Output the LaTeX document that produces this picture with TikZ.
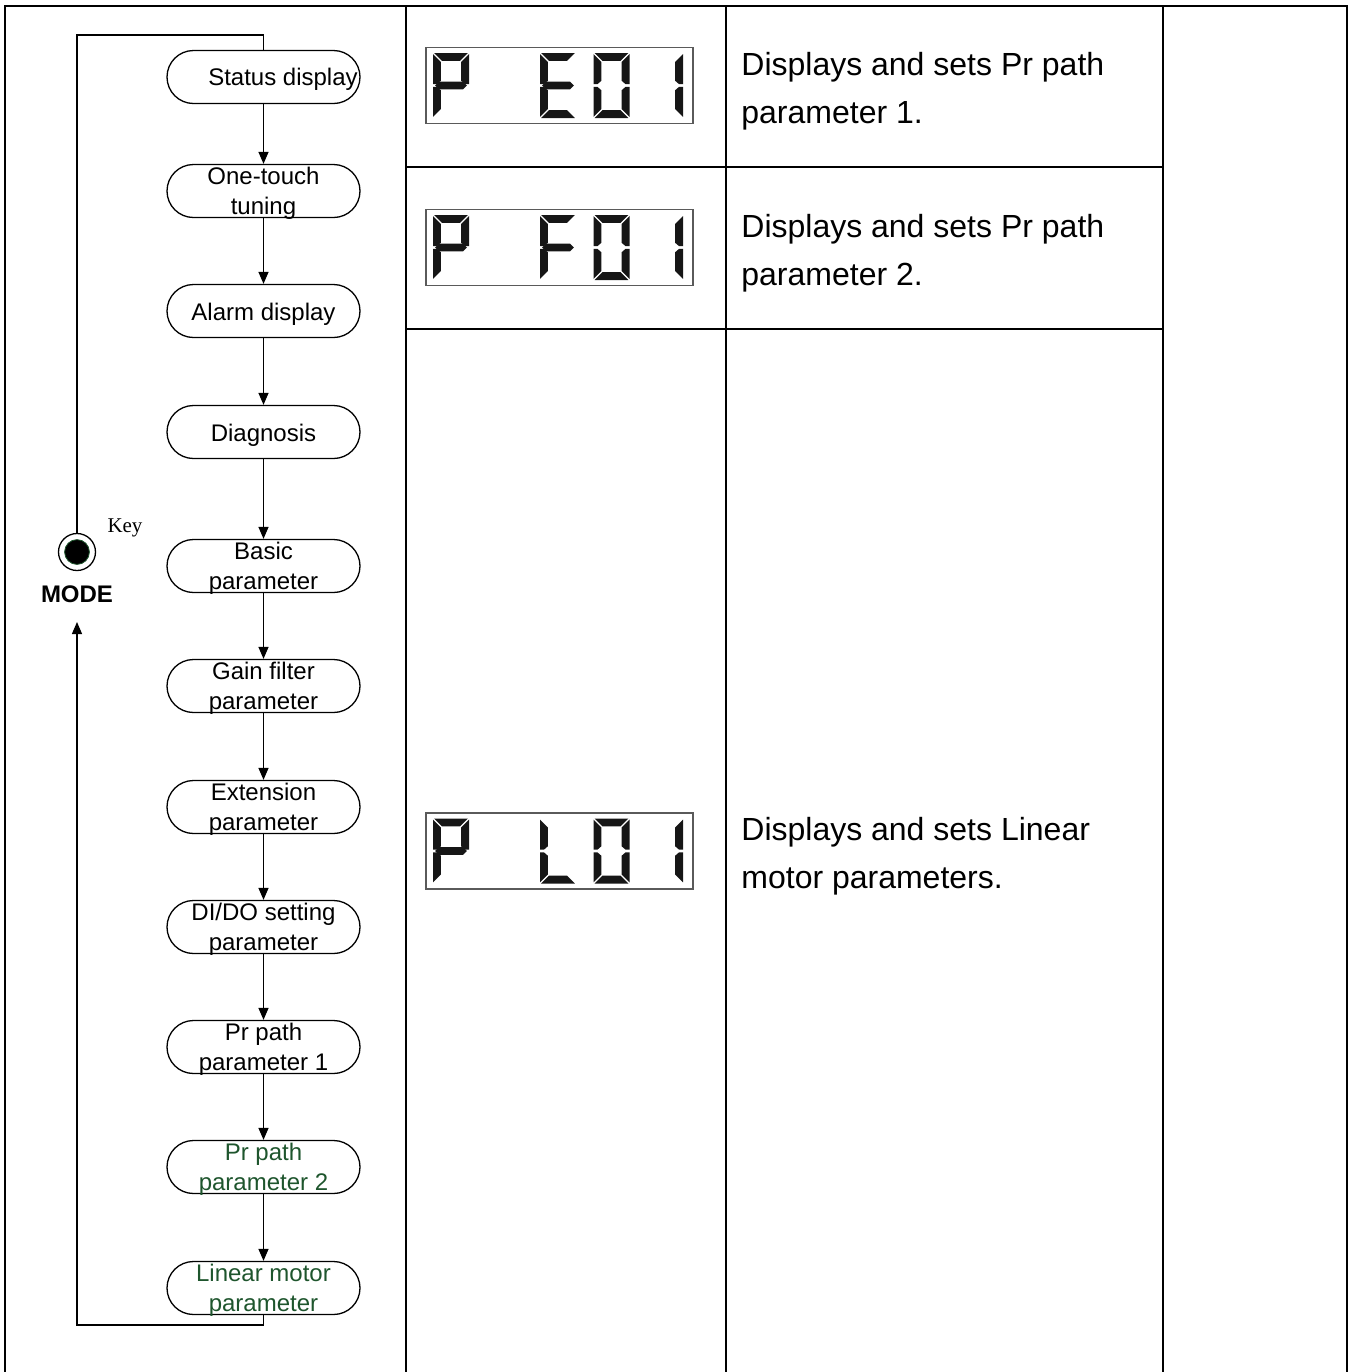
\documentclass[tikz,border=0pt]{standalone}
\usepackage{fontspec}
\setmainfont{Liberation Sans}
\newfontfamily\keyfont{Liberation Serif}
\usetikzlibrary{arrows.meta}
\definecolor{txtgreen}{RGB}{30,85,45}
\definecolor{segdark}{RGB}{22,22,22}
\definecolor{boxgray}{RGB}{90,90,90}

% seven-segment pieces, local pixel frame (origin top-left, 36 x 65)
\newcommand\segA{\fill[segdark] (1.2,0) -- (34.8,0) -- (27,7.8) -- (9,7.8) -- cycle;}
\newcommand\segD{\fill[segdark] (1.2,65) -- (34.8,65) -- (27,57.2) -- (9,57.2) -- cycle;}
\newcommand\segF{\fill[segdark] (0,1.2) -- (7.8,9) -- (7.8,27.8) -- (3.9,31.2) -- (0,31.2) -- cycle;}
\newcommand\segE{\fill[segdark] (0,63.8) -- (7.8,56) -- (7.8,37.2) -- (3.9,33.8) -- (0,33.8) -- cycle;}
\newcommand\segB{\fill[segdark] (36,1.2) -- (28.2,9) -- (28.2,27.8) -- (32.1,31.2) -- (36,31.2) -- cycle;}
\newcommand\segC{\fill[segdark] (36,63.8) -- (28.2,56) -- (28.2,37.2) -- (32.1,33.8) -- (36,33.8) -- cycle;}
\newcommand\segG{\fill[segdark] (2.2,32.5) -- (6,28.7) -- (30,28.7) -- (33.8,32.5) -- (30,36.3) -- (6,36.3) -- cycle;}

\begin{document}
\begin{tikzpicture}[x=0.5pt,y=-0.5pt,
  grid/.style={line width=1pt,line cap=rect},
  flow/.style={line width=0.65pt},
  arr/.style={flow,-{Triangle[length=6pt,width=5pt]}},
  stadium/.style={draw,line width=0.65pt,rounded corners=13.25pt,
    minimum width=96.5pt,minimum height=26.5pt,inner sep=0pt},
  lbl/.style={font=\fontsize{12pt}{15pt}\selectfont,align=center,inner sep=0pt,anchor=base},
  tbl/.style={font=\fontsize{16pt}{24pt}\selectfont,align=left,inner sep=0pt,anchor=base west},
  dispbox/.style={draw=boxgray,line width=0.6pt,minimum width=133.5pt,minimum height=38pt,inner sep=0pt}
]
\useasboundingbox (0,0) rectangle (1354,1372);

% ---- table grid ----
\draw[grid] (5,1373) -- (5,6) -- (1347,6) -- (1347,1373);
\draw[grid] (406,6) -- (406,1373);
\draw[grid] (726,6) -- (726,1373);
\draw[grid] (1163,6) -- (1163,1373);
\draw[grid] (406,167) -- (1163,167);
\draw[grid] (406,329) -- (1163,329);

% ---- flow of the MODE key ----
\node[stadium] (s1)  at (263.5,77)   {};
\node[stadium] (s2)  at (263.5,191)  {};
\node[stadium] (s3)  at (263.5,311)  {};
\node[stadium] (s4)  at (263.5,432)  {};
\node[stadium] (s5)  at (263.5,566)  {};
\node[stadium] (s6)  at (263.5,686)  {};
\node[stadium] (s7)  at (263.5,807)  {};
\node[stadium] (s8)  at (263.5,927)  {};
\node[stadium] (s9)  at (263.5,1047) {};
\node[stadium] (s10) at (263.5,1167) {};
\node[stadium] (s11) at (263.5,1288) {};

\foreach \a/\b in {s1/s2,s2/s3,s3/s4,s4/s5,s5/s6,s6/s7,s7/s8,s8/s9,s9/s10,s10/s11}
  \draw[arr] (\a.south) -- (\b.north);

% labels: the base of a two-line label is its second line
\node[lbl] (t1)  at (283,85)    {Status display};
\node[lbl] (t2)  at (263.5,214) {One-touch\\tuning};
\node[lbl] (t3)  at (263.5,320) {Alarm display};
\node[lbl] (t4)  at (263.5,441) {Diagnosis};
\node[lbl] (t5)  at (263.5,589) {Basic\\parameter};
\node[lbl] (t6)  at (263.5,709) {Gain filter\\parameter};
\node[lbl] (t7)  at (263.5,830) {Extension\\parameter};
\node[lbl] (t8)  at (263.5,950) {DI/DO setting\\parameter};
\node[lbl] (t9)  at (263.5,1070) {Pr path\\parameter 1};
\node[lbl,text=txtgreen] (t10) at (263.5,1190) {Pr path\\parameter 2};
\node[lbl,text=txtgreen] (t11) at (263.5,1311) {Linear motor\\parameter};

% MODE key
\node[circle,draw,line width=0.65pt,minimum size=18.5pt,inner sep=0pt] (key) at (77,552) {};
\fill[black,draw=txtgreen,line width=0.4pt] (key.center) circle[radius=6.2pt];
\node[font=\keyfont\fontsize{10.5pt}{12pt}\selectfont,inner sep=0pt,anchor=base] (keylbl) at (125,532) {Key};
\node[font=\bfseries\fontsize{12pt}{14pt}\selectfont,inner sep=0pt,anchor=base] (mode) at (77,602) {MODE};

\coordinate (loopTopL) at (77,35);
\coordinate (loopTopR) at (263.5,35);
\coordinate (loopBotR) at (263.5,1325);
\coordinate (loopBotL) at (77,1325);
\coordinate (modeIn)   at (77,622);
\draw[flow] (key.north) -- (loopTopL) -- (loopTopR) -- (s1.north);
\draw[arr] (s11.south) -- (loopBotR) -- (loopBotL) -- (modeIn);

% ---- displays ----
\node[dispbox] (d1) at (559.5,85.5) {};
\node[dispbox] (d2) at (559.5,247.5) {};
\node[dispbox] (d3) at (559.5,851) {};

% P _ E 0 1
\begin{scope}[shift={(433,53)}]\segA\segB\segF\segG\segE\end{scope}
\begin{scope}[shift={(540,53)}]\segA\segF\segG\segE\segD\end{scope}
\begin{scope}[shift={(593.5,53)}]\segA\segB\segC\segD\segE\segF\end{scope}
\begin{scope}[shift={(647,53)}]\segB\segC\end{scope}
% P _ F 0 1
\begin{scope}[shift={(433,215)}]\segA\segB\segF\segG\segE\end{scope}
\begin{scope}[shift={(540,215)}]\segA\segF\segG\segE\end{scope}
\begin{scope}[shift={(593.5,215)}]\segA\segB\segC\segD\segE\segF\end{scope}
\begin{scope}[shift={(647,215)}]\segB\segC\end{scope}
% P _ L 0 1
\begin{scope}[shift={(433,818.5)}]\segA\segB\segF\segG\segE\end{scope}
\begin{scope}[shift={(540,818.5)}]\segF\segE\segD\end{scope}
\begin{scope}[shift={(593.5,818.5)}]\segA\segB\segC\segD\segE\segF\end{scope}
\begin{scope}[shift={(647,818.5)}]\segB\segC\end{scope}

% ---- descriptions ----
\node[tbl] (r1) at (741,123) {Displays and sets Pr path\\parameter 1.};
\node[tbl] (r2) at (741,285) {Displays and sets Pr path\\parameter 2.};
\node[tbl] (r3) at (741,888) {Displays and sets Linear\\motor parameters.};
\end{tikzpicture}
\end{document}
